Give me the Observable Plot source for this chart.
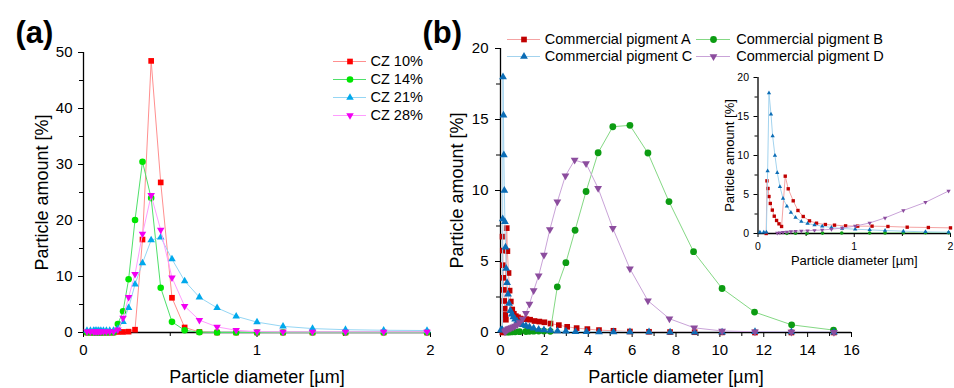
<!DOCTYPE html>
<html>
<head>
<meta charset="utf-8">
<script src="https://cdn.jsdelivr.net/npm/d3@7"></script>
<script src="https://cdn.jsdelivr.net/npm/@observablehq/plot@0.6"></script>
<style>
  html, body { margin: 0; padding: 0; background: #fff; }
  #chart { position: relative; width: 954px; height: 388px; overflow: hidden; background: #fff; }
  #chart svg { position: absolute; overflow: visible; }
</style>
</head>
<body>
<div id="chart"></div>
<script>
// ---------------- Panel (a) data ----------------
const czDiameter = [0.02, 0.04, 0.058, 0.067, 0.077, 0.088, 0.1, 0.115, 0.132, 0.151, 0.173, 0.198, 0.228, 0.26, 0.297, 0.34, 0.39, 0.445, 0.51, 0.583, 0.668, 0.77, 0.88, 1.0, 1.15, 1.32, 1.51, 1.73, 1.98];
const cz10 = [0, 0, 0, 0, 0, 0, 0, 0, 0, 0, 0, 0.1, 0.1, 0.15, 0.5, 16.6, 48.5, 26.8, 6.2, 0.9, 0.1, 0, 0, 0, 0, 0, 0, 0, 0];
const cz14 = [0, 0, 0, 0, 0, 0, 0, 0, 0, 0, 0, 1.5, 3.8, 9.5, 20.1, 30.5, 24.0, 8.0, 1.9, 0.4, 0.05, 0, 0, 0, 0, 0, 0, 0, 0];
const cz21 = [0.35, 0.35, 0.35, 0.35, 0.35, 0.35, 0.35, 0.35, 0.35, 0.35, 0.35, 0.7, 1.9, 4.4, 8.6, 12.4, 16.5, 17.0, 13.1, 9.2, 6.3, 4.4, 2.9, 1.85, 1.1, 0.7, 0.5, 0.4, 0.35];
const cz28 = [0.15, 0.15, 0.15, 0.15, 0.15, 0.15, 0.15, 0.15, 0.15, 0.15, 0.15, 0.5, 2.6, 6.3, 10.4, 17.6, 24.5, 18.3, 9.8, 4.7, 2.2, 1.0, 0.4, 0.15, 0.1, 0.1, 0.1, 0.1, 0.1];
const czNames = ["CZ 10%", "CZ 14%", "CZ 21%", "CZ 28%"];

// ---------------- Panel (b) data ----------------
const pigAx = [0.085, 0.093, 0.104, 0.114, 0.128, 0.149, 0.169, 0.193, 0.218, 0.245, 0.283, 0.314, 0.366, 0.415, 0.47, 0.535, 0.608, 0.70, 0.795, 0.91, 1.036, 1.185, 1.35, 1.55, 1.77, 2.0, 2.28, 2.66, 3.04, 3.47, 3.96, 4.49, 5.15, 5.9, 6.77, 7.73, 8.85, 10.1, 11.6, 13.26, 15.2];
const pigAy = [0, 6.75, 5.77, 4.74, 3.85, 3.0, 2.22, 1.67, 1.24, 0.9, 7.35, 5.73, 4.19, 2.95, 2.18, 1.62, 1.32, 1.15, 1.07, 0.98, 0.94, 0.94, 0.9, 0.81, 0.77, 0.72, 0.63, 0.52, 0.4, 0.31, 0.24, 0.17, 0.12, 0.07, 0.05, 0.03, 0.02, 0.01, 0, 0, 0];

const pigBx = [0.3, 0.39, 0.51, 0.67, 0.87, 1.16, 1.32, 1.51, 1.74, 1.98, 2.27, 2.59, 2.98, 3.4, 3.9, 4.45, 5.12, 5.9, 6.72, 7.68, 8.8, 10.1, 11.58, 13.27, 15.18];
const pigBy = [0.02, 0.03, 0.04, 0.05, 0.06, 0.07, 0.08, 0.09, 0.1, 0.1, 0.08, 3.22, 4.92, 7.2, 9.93, 12.66, 14.49, 14.59, 12.64, 9.22, 5.69, 3.1, 1.44, 0.54, 0.17];

const pigCx = [0.02, 0.06, 0.087, 0.1, 0.114, 0.135, 0.152, 0.176, 0.2, 0.228, 0.26, 0.3, 0.342, 0.39, 0.45, 0.515, 0.587, 0.667, 0.763, 0.874, 1.01, 1.16, 1.32, 1.51, 1.74, 1.98, 2.27, 2.6, 2.98, 3.42, 3.92, 4.49, 5.15, 5.9, 6.77, 7.73, 8.85, 10.1, 11.6, 13.26, 15.2];
const pigCy = [0.17, 0.17, 0.17, 8.0, 18.0, 15.3, 12.5, 10.0, 7.8, 6.0, 4.5, 3.5, 2.7, 2.05, 1.54, 1.28, 1.1, 0.94, 0.77, 0.64, 0.55, 0.47, 0.38, 0.3, 0.21, 0.17, 0.14, 0.1, 0.08, 0.06, 0.05, 0.04, 0.04, 0.03, 0.03, 0.02, 0.02, 0.02, 0.05, 0.03, 0.02];

const pigDx = [0.2, 0.228, 0.26, 0.3, 0.342, 0.39, 0.45, 0.515, 0.587, 0.667, 0.763, 0.874, 1.01, 1.16, 1.32, 1.51, 1.74, 1.98, 2.25, 2.59, 2.96, 3.38, 3.9, 4.45, 5.12, 5.9, 6.72, 7.7, 8.83, 10.1, 11.6, 13.26, 15.2];
const pigDy = [0.05, 0.1, 0.15, 0.2, 0.25, 0.28, 0.32, 0.36, 0.4, 0.45, 0.55, 0.7, 0.95, 1.35, 2.0, 2.95, 4.0, 5.45, 7.25, 9.2, 11.04, 12.14, 11.9, 10.16, 7.34, 4.49, 2.24, 0.97, 0.33, 0.11, 0.05, 0.03, 0.02];
const pigNames = ["Commercial pigment A", "Commercial pigment B", "Commercial pigment C", "Commercial pigment D"];

// ---------------- Ticks ----------------
const aXTicks = [0, 1, 2], aXMinor = [0.5, 1.5];
const aYTicks = [0, 10, 20, 30, 40, 50], aYMinor = [5, 15, 25, 35, 45];
const bXTicks = [0, 2, 4, 6, 8, 10, 12, 14, 16], bXMinor = [1, 3, 5, 7, 9, 11, 13, 15];
const bYTicks = [0, 5, 10, 15, 20], bYMinor = [2.5, 7.5, 12.5, 17.5];
const iXTicks = [0, 1, 2], iXMinor = [0.5, 1.5];
const iYTicks = [0, 5, 10, 15, 20], iYMinor = [2.5, 7.5, 12.5, 17.5];

const yTitle = "Particle amount [%]";
const xTitle = "Particle diameter [µm]";

// ---------------- Styling ----------------
const FONT = 'Arial, "Liberation Sans", Helvetica, sans-serif';
const triDown = {
  draw(context, size) {
    const s3 = Math.sqrt(3);
    const y = -Math.sqrt(size / (s3 * 3));
    context.moveTo(0, -y * 2);
    context.lineTo(-s3 * y, y);
    context.lineTo(s3 * y, y);
    context.closePath();
  }
};
const czStyle = [
  {line: "#ff8f8f", fill: "#ff0000", symbol: "square", r: 3.2},
  {line: "#4fe06a", fill: "#00e600", symbol: "circle", r: 3.3},
  {line: "#95d6f4", fill: "#00a9ec", symbol: "triangle", r: 2.8},
  {line: "#ff9cff", fill: "#f200f2", symbol: triDown, r: 2.8}
];
const pigStyle = [
  {line: "#f4a3a3", fill: "#c00000", symbol: "square", r: 3.2, ri: 1.9},
  {line: "#84d884", fill: "#0c9c12", symbol: "circle", r: 3.4, ri: 1.8},
  {line: "#a3d3ee", fill: "#0b6cb5", symbol: "triangle", r: 2.9, ri: 1.6},
  {line: "#c9a3d8", fill: "#8c4d9e", symbol: triDown, r: 2.9, ri: 1.6}
];

function rows(xs, ys) { return xs.map((x, i) => ({x, y: ys[i]})); }

function axes(xT, xM, yT, yM, o) {
  return [
    Plot.axisX({ticks: xT, tickSize: o.tick, tickPadding: o.xpad, fontSize: o.fs, label: null, tickFormat: d => String(d)}),
    Plot.axisX({ticks: xM, tickSize: o.minor, tickFormat: () => "", label: null}),
    Plot.axisY({ticks: yT, tickSize: o.tick, tickPadding: o.ypad, fontSize: o.fs, label: null, tickFormat: d => String(d)}),
    Plot.axisY({ticks: yM, tickSize: o.minor, tickFormat: () => "", label: null}),
    Plot.ruleX([0], {stroke: "#000", strokeWidth: 1.3}),
    Plot.ruleY([0], {stroke: "#000", strokeWidth: 1.3})
  ];
}

function seriesMarks(data, st, r, dotFilter, clip) {
  return [
    Plot.line(data, {x: "x", y: "y", stroke: st.line, strokeWidth: 1, clip}),
    Plot.dot(dotFilter ? data.filter(dotFilter) : data, {x: "x", y: "y", symbol: st.symbol, r, fill: st.fill, stroke: "none"})
  ];
}

function titles(o) {
  return [
    Plot.text([yTitle], {frameAnchor: "left", rotate: -90, textAnchor: "middle", lineAnchor: "middle", dx: o.ydx, fontSize: o.fs}),
    Plot.text([xTitle], {frameAnchor: "bottom", textAnchor: "middle", lineAnchor: "middle", dy: o.xdy, fontSize: o.fs})
  ];
}

const chart = document.getElementById("chart");
function place(svg, left, top) {
  svg.style.left = left + "px";
  svg.style.top = top + "px";
  svg.style.background = "transparent";
  chart.appendChild(svg);
}

// ---------------- Panel (a) ----------------
const czSeries = [cz10, cz14, cz21, cz28];
const plotA = Plot.plot({
  width: 480, height: 388,
  marginLeft: 83, marginRight: 50, marginTop: 52, marginBottom: 56,
  style: {background: "transparent", fontFamily: FONT, fontSize: "15px", color: "#000"},
  x: {domain: [0, 2]},
  y: {domain: [0, 50]},
  marks: [
    ...axes(aXTicks, aXMinor, aYTicks, aYMinor, {tick: 5, minor: 4, xpad: 7, ypad: 6, fs: 15}),
    ...czSeries.flatMap((ys, i) => seriesMarks(rows(czDiameter, ys), czStyle[i], czStyle[i].r)),
    ...titles({ydx: -41, xdy: 45, fs: 18}),
    Plot.text(["(a)"], {frameAnchor: "top-left", textAnchor: "start", lineAnchor: "middle", dx: -68, dy: -19, fontSize: 31, fontWeight: "bold"})
  ]
});
place(plotA, 0, 0);

// ---------------- Panel (b) ----------------
const pigData = [rows(pigAx, pigAy), rows(pigBx, pigBy), rows(pigCx, pigCy), rows(pigDx, pigDy)];
const plotB = Plot.plot({
  width: 534, height: 388,
  marginLeft: 80, marginRight: 103, marginTop: 48, marginBottom: 56,
  style: {background: "transparent", fontFamily: FONT, fontSize: "15px", color: "#000"},
  x: {domain: [0, 16]},
  y: {domain: [0, 20]},
  marks: [
    ...axes(bXTicks, bXMinor, bYTicks, bYMinor, {tick: 5, minor: 4, xpad: 7, ypad: 7, fs: 15}),
    ...pigData.flatMap((d, i) => seriesMarks(d, pigStyle[i], pigStyle[i].r, null, true)),
    ...titles({ydx: -43, xdy: 45, fs: 18}),
    Plot.text(["(b)"], {frameAnchor: "top-left", textAnchor: "start", lineAnchor: "middle", dx: -78, dy: -15, fontSize: 31, fontWeight: "bold"})
  ]
});
place(plotB, 420, 0);

// ---------------- Inset ----------------
const plotI = Plot.plot({
  width: 264, height: 388,
  marginLeft: 67.5, marginRight: 4, marginTop: 77, marginBottom: 155,
  style: {background: "transparent", fontFamily: FONT, fontSize: "10.5px", color: "#000"},
  x: {domain: [0, 2]},
  y: {domain: [0, 20]},
  marks: [
    ...axes(iXTicks, iXMinor, iYTicks, iYMinor, {tick: 4, minor: 3, xpad: 5, ypad: 5, fs: 10.5}),
    ...pigData.flatMap((d, i) => seriesMarks(d, pigStyle[i], pigStyle[i].ri, p => p.x <= 2, true)),
    ...titles({ydx: -28.5, xdy: 27, fs: 13})
  ]
});
place(plotI, 690, 0);

// ---------------- Legends ----------------
function legend(names, styles, opt) {
  const entries = names.map((name, i) => ({name, st: styles[i]}));
  return Plot.plot({
    width: opt.width, height: opt.height,
    margin: 0,
    style: {background: "transparent", fontFamily: FONT, fontSize: "14.5px", color: "#000"},
    x: {type: "identity", axis: null},
    y: {type: "point", domain: names, range: opt.range, padding: 0, axis: null},
    marks: [
      ...entries.flatMap(e => [
        Plot.ruleY([e.name], {x1: opt.x1, x2: opt.x2, stroke: e.st.line, strokeWidth: 1}),
        Plot.dot([e.name], {x: (opt.x1 + opt.x2) / 2, y: d => d, symbol: e.st.symbol, r: e.st.r, fill: e.st.fill, stroke: "none"})
      ]),
      Plot.text(names, {x: opt.tx, y: d => d, textAnchor: "start", fontSize: 14.5})
    ]
  });
}
place(legend(czNames, czStyle, {width: 100, height: 75, range: [11, 65], x1: 3, x2: 36, tx: 40}), 330, 50);
place(legend([pigNames[0], pigNames[2]], [pigStyle[0], pigStyle[2]], {width: 195, height: 40, range: [11, 28.7], x1: 7, x2: 40, tx: 44.3}), 500, 28);
place(legend([pigNames[1], pigNames[3]], [pigStyle[1], pigStyle[3]], {width: 264, height: 40, range: [11, 28.7], x1: 6, x2: 40, tx: 45.7}), 690, 28);
</script>
</body>
</html>
